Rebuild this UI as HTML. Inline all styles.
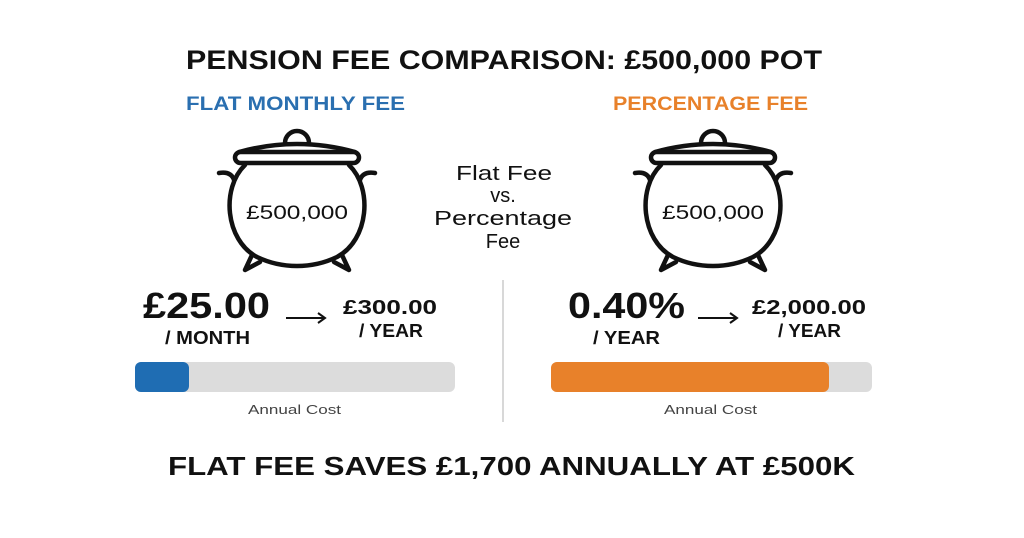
<!DOCTYPE html>
<html><head><meta charset="utf-8"><style>
html,body{margin:0;padding:0;background:#fff;width:1024px;height:538px;overflow:hidden}
svg{display:block}
text{font-family:"Liberation Sans","DejaVu Sans",sans-serif}
</style></head><body>
<svg width="1024" height="538" viewBox="0 0 1024 538">
<defs>
<g id="pot" fill="none" stroke="#111" stroke-width="4.5" stroke-linecap="round" stroke-linejoin="round">
<path d="M-12,143 a12,12 0 0 1 24,0"/>
<path d="M-58,152 Q0,136 58,152"/>
<rect x="-62" y="152" width="124" height="11" rx="5.5"/>
<path d="M-52,165 C-76,188 -72,240 -40,257 C-15,269 15,269 40,257 C72,240 76,188 52,165"/>
<path d="M-63,180 Q-66,171 -78,173"/>
<path d="M63,180 Q66,171 78,173"/>
<path d="M-45,255 L-52,270 L-37,262"/>
<path d="M45,255 L52,270 L37,262"/>
</g>
</defs>
<text x="186" y="69" textLength="636" lengthAdjust="spacingAndGlyphs" font-size="27" font-weight="bold" fill="#111">PENSION FEE COMPARISON: £500,000 POT</text>
<text x="186" y="110" textLength="219" lengthAdjust="spacingAndGlyphs" font-size="19" font-weight="bold" fill="#2a6fb0">FLAT MONTHLY FEE</text>
<text x="613" y="110" textLength="195" lengthAdjust="spacingAndGlyphs" font-size="19" font-weight="bold" fill="#e8812a">PERCENTAGE FEE</text>

<use href="#pot" x="297" y="0"/>
<use href="#pot" x="713" y="0"/>
<text x="246" y="219" textLength="102" lengthAdjust="spacingAndGlyphs" font-size="19" fill="#111">£500,000</text>
<text x="662" y="219" textLength="102" lengthAdjust="spacingAndGlyphs" font-size="19" fill="#111">£500,000</text>

<g font-size="20" fill="#111">
<text x="456" y="180" textLength="96" lengthAdjust="spacingAndGlyphs">Flat Fee</text>
<text x="503" y="202" text-anchor="middle">vs.</text>
<text x="434" y="225" textLength="138" lengthAdjust="spacingAndGlyphs">Percentage</text>
<text x="503" y="248" text-anchor="middle">Fee</text>
</g>
<line x1="503" y1="280" x2="503" y2="422" stroke="#ccc" stroke-width="1.5"/>

<text x="143" y="318" textLength="127" lengthAdjust="spacingAndGlyphs" font-size="36" font-weight="bold" fill="#111">£25.00</text>
<text x="165" y="344" textLength="85" lengthAdjust="spacingAndGlyphs" font-size="18" font-weight="bold" fill="#111">/ MONTH</text>
<path d="M286,318 H325 M318,313 L325,318 L318,323" fill="none" stroke="#111" stroke-width="2"/>
<text x="343" y="314" textLength="94" lengthAdjust="spacingAndGlyphs" font-size="20" font-weight="bold" fill="#111">£300.00</text>
<text x="359" y="337" textLength="64" lengthAdjust="spacingAndGlyphs" font-size="18" font-weight="bold" fill="#111">/ YEAR</text>
<rect x="135" y="362" width="320" height="30" rx="6" fill="#dcdcdc"/>
<rect x="135" y="362" width="54" height="30" rx="6" fill="#1f6db3"/>
<text x="248" y="414" textLength="93" lengthAdjust="spacingAndGlyphs" font-size="13" fill="#444">Annual Cost</text>

<text x="568" y="318" textLength="117" lengthAdjust="spacingAndGlyphs" font-size="36" font-weight="bold" fill="#111">0.40%</text>
<text x="593" y="344" textLength="67" lengthAdjust="spacingAndGlyphs" font-size="18" font-weight="bold" fill="#111">/ YEAR</text>
<path d="M698,318 H737 M730,313 L737,318 L730,323" fill="none" stroke="#111" stroke-width="2"/>
<text x="752" y="314" textLength="114" lengthAdjust="spacingAndGlyphs" font-size="20" font-weight="bold" fill="#111">£2,000.00</text>
<text x="778" y="337" textLength="63" lengthAdjust="spacingAndGlyphs" font-size="18" font-weight="bold" fill="#111">/ YEAR</text>
<rect x="551" y="362" width="321" height="30" rx="6" fill="#dcdcdc"/>
<rect x="551" y="362" width="278" height="30" rx="6" fill="#e8812a"/>
<text x="664" y="414" textLength="93" lengthAdjust="spacingAndGlyphs" font-size="13" fill="#444">Annual Cost</text>

<text x="168" y="475" textLength="687" lengthAdjust="spacingAndGlyphs" font-size="26" font-weight="bold" fill="#111">FLAT FEE SAVES £1,700 ANNUALLY AT £500K</text>
</svg>
</body></html>
